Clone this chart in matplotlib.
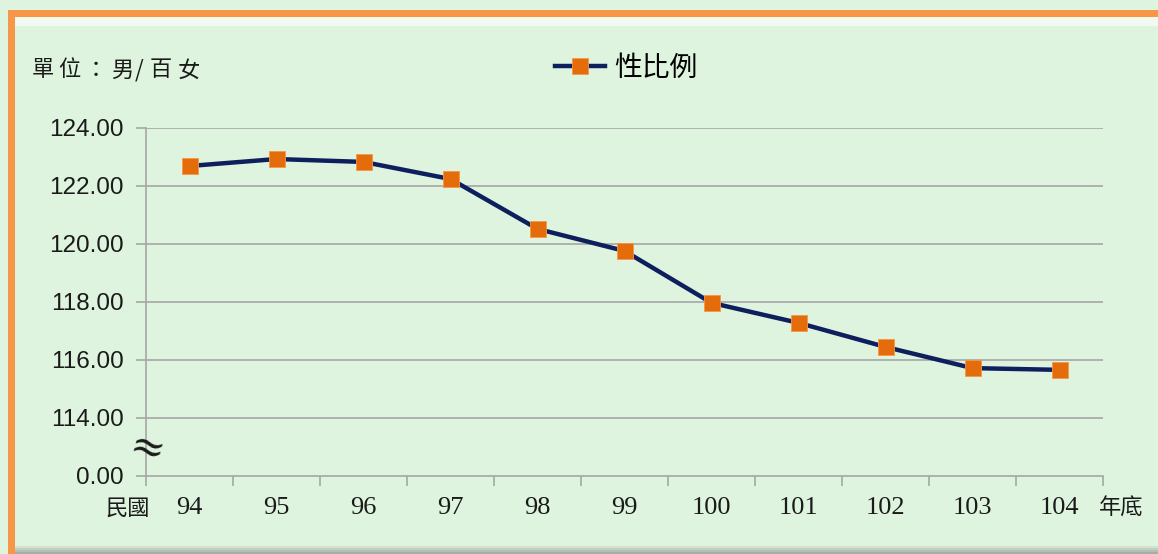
import matplotlib
matplotlib.use("Agg")
import matplotlib.pyplot as plt
from matplotlib.patches import Rectangle
import numpy as np

years = ["94", "95", "96", "97", "98", "99", "100", "101", "102", "103", "104"]
sex_ratio = [122.69, 122.93, 122.83, 122.24, 120.52, 119.76, 117.97, 117.28, 116.45, 115.72, 115.66]
ytick_vals = [112, 114, 116, 118, 120, 122, 124]
ytick_labels = ["0.00", "114.00", "116.00", "118.00", "120.00", "122.00", "124.00"]
series_name = "性比例"
unit_text = "單位：男/百女"
xprefix = "民國"
xsuffix = "年底"

W, H = 1158, 554
BG = "#DEF4DE"
fig = plt.figure(figsize=(W / 100, H / 100), dpi=100)
fig.patch.set_facecolor(BG)

def fx(px):
    return px / W

def fy(py):
    return 1 - py / H

# frame decorations
fig.patches.append(Rectangle((fx(8), fy(554)), fx(7), fy(10) - fy(554), transform=fig.transFigure,
                             facecolor="#F79646", edgecolor="none", zorder=0))
fig.patches.append(Rectangle((fx(8), fy(17)), fx(W - 8), fy(10) - fy(17), transform=fig.transFigure,
                             facecolor="#F79646", edgecolor="none", zorder=0))
fig.patches.append(Rectangle((fx(15), fy(26)), fx(W - 15), fy(17) - fy(26), transform=fig.transFigure,
                             facecolor="white", edgecolor="none", alpha=0.6, zorder=0))
for i, a in enumerate([0.15, 0.3, 0.45, 0.6]):
    fig.patches.append(Rectangle((fx(15), fy(546 + 2 * i + 2)), fx(W - 15), fy(546 + 2 * i) - fy(546 + 2 * i + 2),
                                 transform=fig.transFigure, facecolor="#808080", edgecolor="none",
                                 alpha=a, zorder=0))

left, right, top, bottom = 146, 1103, 128, 476
ax = fig.add_axes([fx(left), fy(bottom), fx(right - left), fy(top) - fy(bottom)])
ax.set_facecolor("none")

x = np.arange(len(years))
ax.plot(x, sex_ratio, color="#0D1F5C", lw=3.2, marker="s", markersize=12,
        markerfacecolor="#E46C0A", markeredgecolor="#F79646", markeredgewidth=0.6,
        label=series_name, zorder=3, solid_joinstyle="round")

ax.set_xlim(-0.5, len(years) - 0.5)
ax.set_ylim(112, 124)

gridc = "#A6A6A6"
ax.set_yticks(ytick_vals)
ax.set_yticklabels(ytick_labels, fontfamily="Liberation Sans", fontsize=17.5, color="#1a1a1a")
for v in ytick_vals[1:]:
    ax.axhline(v, color=gridc, lw=1.2, zorder=1)

ax.set_xticks(np.arange(-0.5, len(years), 1.0))
ax.set_xticklabels([])
ax.set_xticks(x, minor=True)
ax.set_xticklabels(years, minor=True, fontfamily="Liberation Serif", fontsize=19, color="#1a1a1a")
ax.tick_params(axis="x", which="major", direction="out", length=7, width=1.2, color=gridc)
ax.tick_params(axis="x", which="minor", length=0, pad=15)
ax.tick_params(axis="y", direction="out", length=7, width=1.2, color=gridc, pad=9)

for s in ["top", "right"]:
    ax.spines[s].set_visible(False)
for s in ["left", "bottom"]:
    ax.spines[s].set_color(gridc)
    ax.spines[s].set_linewidth(1.2)

cjk = ["Noto Sans CJK TC", "DejaVu Sans"]
unit_x = [43, 69, 96, 122, 139, 161, 189]
for ch, px in zip(unit_text, unit_x):
    fig.text(fx(px), fy(70), ch, fontsize=16, family=cjk, va="center", ha="center", color="#1a1a1a")
fig.text(fx(128), fy(508), xprefix, fontsize=16, family=cjk, va="center", ha="center", color="#1a1a1a")
fig.text(fx(1121), fy(508), xsuffix, fontsize=16, family=cjk, va="center", ha="center", color="#1a1a1a")
fig.text(fx(147), fy(450), "≈", fontsize=30, family="DejaVu Serif", va="center", ha="center",
         rotation=-15, color="#1a1a1a")

leg = fig.legend(loc="center", bbox_to_anchor=(fx(626), fy(68)), frameon=False,
                 prop={"family": cjk, "size": 20}, handlelength=1.8, handletextpad=0.35)

fig.savefig("out.png", dpi=100, facecolor=fig.get_facecolor())
